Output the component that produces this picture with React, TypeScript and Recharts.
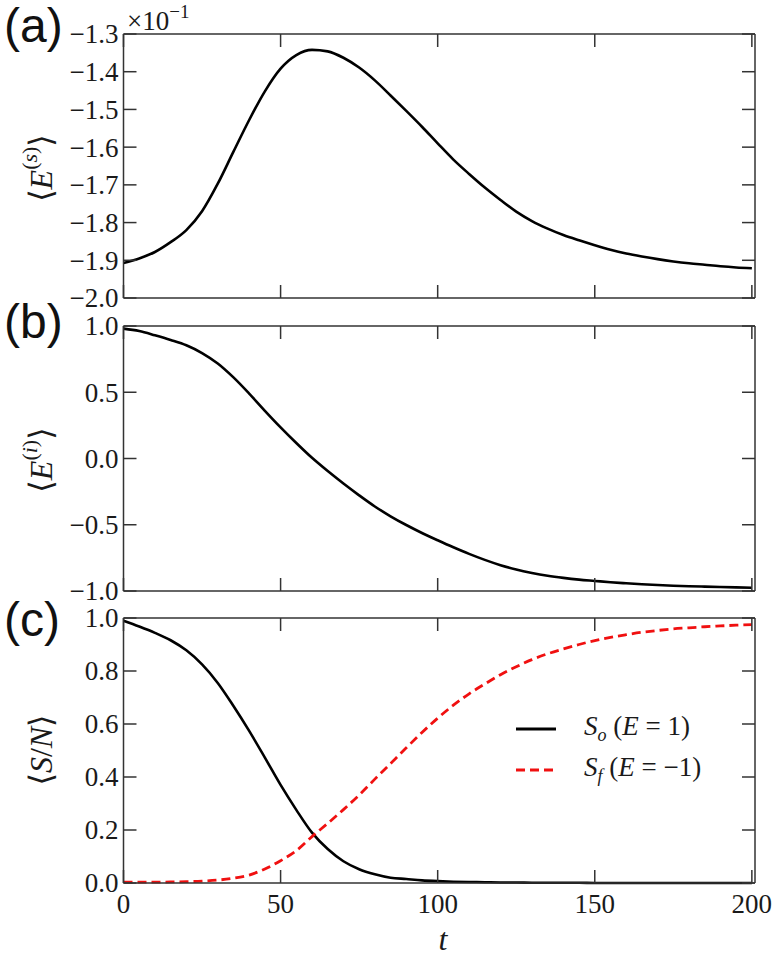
import { LineChart, Line, XAxis, YAxis, Legend } from "recharts"

// time grid (t)
const tValues = [
  0, 5, 10, 15, 20, 25, 30, 35, 40, 45, 50, 55, 60, 65, 70, 75, 80, 85, 90, 95, 100,
  105, 110, 115, 120, 125, 130, 135, 140, 145, 150, 155, 160, 165, 170, 175, 180, 185, 190, 195, 200,
]

// (a) <E^(s)>, in units of 10^-1
const energySystem = [
  -1.907, -1.895, -1.878, -1.852, -1.82, -1.77, -1.697, -1.612, -1.528, -1.452, -1.392,
  -1.356, -1.342, -1.346, -1.363, -1.389, -1.423, -1.463, -1.504, -1.546, -1.59,
  -1.633, -1.671, -1.707, -1.74, -1.771, -1.796, -1.816, -1.833, -1.847, -1.86,
  -1.872, -1.882, -1.89, -1.897, -1.903, -1.908, -1.912, -1.916, -1.919, -1.921,
]

// (b) <E^(i)>
const energyInternal = [
  0.98, 0.962, 0.93, 0.895, 0.855, 0.796, 0.717, 0.612, 0.49, 0.36, 0.235,
  0.117, 0.005, -0.095, -0.189, -0.278, -0.362, -0.436, -0.502, -0.562, -0.617,
  -0.67, -0.72, -0.765, -0.805, -0.838, -0.864, -0.885, -0.901, -0.914, -0.924,
  -0.934, -0.942, -0.949, -0.955, -0.96, -0.964, -0.967, -0.97, -0.973, -0.975,
]

// (c) <S/N>
const fracOrigin = [
  0.99, 0.968, 0.944, 0.916, 0.878, 0.825, 0.755, 0.668, 0.574, 0.473, 0.37,
  0.276, 0.19, 0.128, 0.082, 0.052, 0.033, 0.02, 0.015, 0.01, 0.007,
  0.005, 0.004, 0.003, 0.002, 0.002, 0.001, 0.001, 0.001, 0.001, 0,
  0, 0, 0, 0, 0, 0, 0, 0, 0, 0,
]
const fracFinal = [
  0.003, 0.003, 0.003, 0.004, 0.005, 0.007, 0.011, 0.018, 0.03, 0.053, 0.084,
  0.122, 0.175, 0.225, 0.277, 0.332, 0.392, 0.451, 0.51, 0.568, 0.622,
  0.671, 0.714, 0.751, 0.786, 0.816, 0.843, 0.865, 0.883, 0.9, 0.915,
  0.927, 0.937, 0.946, 0.953, 0.959, 0.963, 0.967, 0.97, 0.973, 0.975,
]

const tTicks = [0, 50, 100, 150, 200]
const aTicks = [-2.0, -1.9, -1.8, -1.7, -1.6, -1.5, -1.4, -1.3]
const bTicks = [-1.0, -0.5, 0.0, 0.5, 1.0]
const cTicks = [0.0, 0.2, 0.4, 0.6, 0.8, 1.0]

const data = tValues.map((t, i) => ({
  t,
  es: energySystem[i],
  ei: energyInternal[i],
  so: fracOrigin[i],
  sf: fracFinal[i],
}))

const SERIF = "Liberation Serif, DejaVu Serif, Times New Roman, Times, Noto Serif, serif"
const SANS = "Liberation Sans, Arial, Helvetica, sans-serif"
const FRAME = "#333333"
const INK = "#1a1a1a"
const RED = "#f01010"
const TICK_LEN = 13
const TICK_FONT = 27
const X_DOMAIN: [number, number] = [0, 201]

// plot area: x 123.5..755 (axes take 1px each side)
const margins = { left: 122.5, right: 21 }
const PLOT_W = 631.5

const fmt1 = (v: number) => v.toFixed(1).replace("-", "\u2212")

// left axis tick: inward mark on both left and right frame, label on the left
const leftTick = (format: (v: number) => string) => (props: any) => {
  const { x, y, payload } = props
  return (
    <g>
      <line x1={x} y1={y} x2={x + TICK_LEN} y2={y} stroke={FRAME} strokeWidth={1.5} />
      <line x1={x + PLOT_W} y1={y} x2={x + PLOT_W - TICK_LEN} y2={y} stroke={FRAME} strokeWidth={1.5} />
      <text x={x - 5} y={y} dy="0.35em" textAnchor="end" style={{ fontFamily: SERIF }} fontSize={TICK_FONT} fill={INK}>
        {format(payload.value)}
      </text>
    </g>
  )
}

// bottom axis tick: inward mark on bottom and top frame
const bottomTick = (plotH: number, showLabel: boolean) => (props: any) => {
  const { x, y, payload } = props
  return (
    <g>
      <line x1={x} y1={y} x2={x} y2={y - TICK_LEN} stroke={FRAME} strokeWidth={1.5} />
      <line x1={x} y1={y - plotH} x2={x} y2={y - plotH + TICK_LEN} stroke={FRAME} strokeWidth={1.5} />
      {showLabel && (
        <text x={x} y={y + 30} textAnchor="middle" style={{ fontFamily: SERIF }} fontSize={TICK_FONT} fill={INK}>
          {payload.value}
        </text>
      )}
    </g>
  )
}

function frameAxes(yDomain: [number, number], yTicks: number[], plotH: number, showXLabels: boolean) {
  const line = { stroke: FRAME, strokeWidth: 1.5 }
  return [
    <XAxis key="xb" dataKey="t" type="number" domain={X_DOMAIN} ticks={tTicks} interval={0}
      height={1} tickSize={0} tickMargin={0} tickLine={false} axisLine={line} tick={bottomTick(plotH, showXLabels)} />,
    <XAxis key="xt" xAxisId="top" orientation="top" type="number" domain={X_DOMAIN}
      height={1} tickLine={false} axisLine={line} tick={false} />,
    <YAxis key="yl" type="number" domain={yDomain} ticks={yTicks} interval={0}
      width={1} tickSize={0} tickMargin={0} tickLine={false} axisLine={line} tick={leftTick(fmt1)} />,
    <YAxis key="yr" yAxisId="right" orientation="right" type="number" domain={yDomain}
      width={1} tickLine={false} axisLine={line} tick={false} />,
  ]
}

const legendRows = [
  { key: "so", color: "#000", dash: undefined, sub: "o", value: "1" },
  { key: "sf", color: RED, dash: "9 5", sub: "f", value: "\u22121" },
]

function LegendBox() {
  return (
    <div style={{ fontFamily: SERIF, fontSize: 27, color: INK }}>
      {legendRows.map((row) => (
        <div key={row.key} style={{ display: "flex", alignItems: "center", height: 41 }}>
          <svg width={40} height={8}>
            <line x1={0} y1={4} x2={40} y2={4} stroke={row.color} strokeWidth={3} strokeDasharray={row.dash} />
          </svg>
          <span style={{ marginLeft: 28, whiteSpace: "nowrap" }}>
            <i>S</i>
            <sub style={{ fontSize: 18, fontStyle: "italic" }}>{row.sub}</sub> (<i>E</i> = {row.value})
          </span>
        </div>
      ))}
    </div>
  )
}

export default function App() {
  return (
    <div style={{ position: "absolute", left: 0, top: 0, width: 777, height: 957, background: "#fff" }}>
      {/* (a) plot y 34..298 */}
      <div style={{ position: "absolute", left: 0, top: 0 }}>
        <LineChart width={777} height={320} data={data} margin={{ ...margins, top: 33, bottom: 21 }}>
          {frameAxes([-2.0, -1.3], aTicks, 264, false)}
          <Line type="monotone" dataKey="es" stroke="#000" strokeWidth={2.6} dot={false} isAnimationActive={false} />
        </LineChart>
      </div>

      {/* (b) plot y 326..591 */}
      <div style={{ position: "absolute", left: 0, top: 300 }}>
        <LineChart width={777} height={320} data={data} margin={{ ...margins, top: 25, bottom: 28 }}>
          {frameAxes([-1.0, 1.0], bTicks, 265, false)}
          <Line type="monotone" dataKey="ei" stroke="#000" strokeWidth={2.6} dot={false} isAnimationActive={false} />
        </LineChart>
      </div>

      {/* (c) plot y 618..883 */}
      <div style={{ position: "absolute", left: 0, top: 590 }}>
        <LineChart width={777} height={367} data={data} margin={{ ...margins, top: 27, bottom: 73 }}>
          {frameAxes([0, 1.0], cTicks, 265, true)}
          <Line type="monotone" dataKey="so" name="So" stroke="#000" strokeWidth={2.6} dot={false} isAnimationActive={false} />
          <Line type="monotone" dataKey="sf" name="Sf" stroke={RED} strokeWidth={2.8} strokeDasharray="9 5"
            dot={false} isAnimationActive={false} />
          <Legend layout="vertical" align="center" verticalAlign="middle" content={<LegendBox />}
            wrapperStyle={{ left: 516, top: 118, width: 240 }} />
        </LineChart>
      </div>

      {/* panel letters, axis labels */}
      <svg width={777} height={957} style={{ position: "absolute", left: 0, top: 0, pointerEvents: "none" }}>
        <g style={{ fontFamily: SANS }} fontSize={48} fill="#111">
          <text x={4} y={42}>(a)</text>
          <text x={4} y={338}>(b)</text>
          <text x={4} y={636}>(c)</text>
        </g>
        <text x={127} y={30} style={{ fontFamily: SERIF }} fontSize={27} fill={INK}>
          ×10<tspan fontSize={19} dy={-12}>{"\u22121"}</tspan>
        </text>
        <g style={{ fontFamily: SERIF }} fontSize={32} fill={INK}>
          <text transform="translate(41,168) rotate(-90)" textAnchor="middle" dominantBaseline="central">
            ⟨<tspan fontStyle="italic">E</tspan>
            <tspan fontSize={22} dy={-12}>(</tspan>
            <tspan fontSize={22} fontStyle="italic">s</tspan>
            <tspan fontSize={22}>)</tspan>
            <tspan dy={12}>⟩</tspan>
          </text>
          <text transform="translate(41,460) rotate(-90)" textAnchor="middle" dominantBaseline="central">
            ⟨<tspan fontStyle="italic">E</tspan>
            <tspan fontSize={22} dy={-12}>(</tspan>
            <tspan fontSize={22} fontStyle="italic">i</tspan>
            <tspan fontSize={22}>)</tspan>
            <tspan dy={12}>⟩</tspan>
          </text>
          <text transform="translate(41,750) rotate(-90)" textAnchor="middle" dominantBaseline="central">
            ⟨<tspan fontStyle="italic">S</tspan>/<tspan fontStyle="italic">N</tspan>⟩
          </text>
          <text x={443} y={950} textAnchor="middle" fontStyle="italic">t</text>
        </g>
      </svg>
    </div>
  )
}
